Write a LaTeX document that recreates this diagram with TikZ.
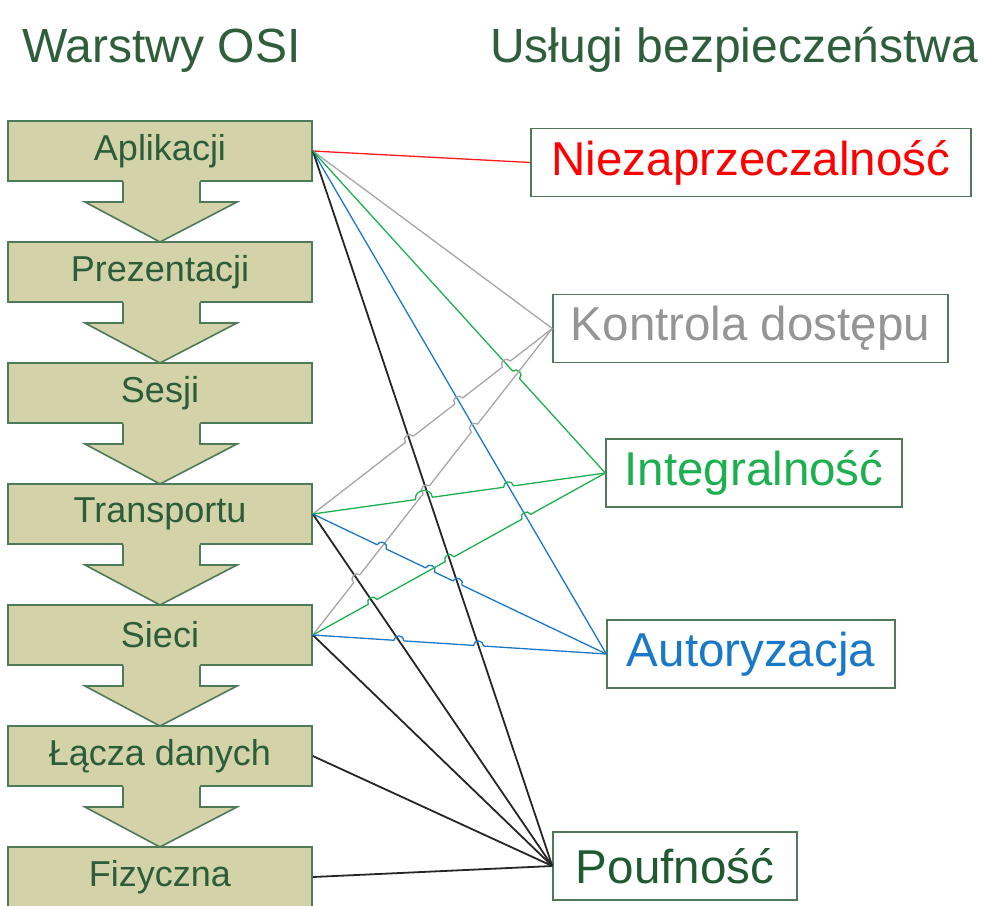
\documentclass[tikz,border=0pt]{standalone}
\usepackage{fontspec}
\setmainfont{Liberation Sans}
\usetikzlibrary{calc,intersections}

\definecolor{khaki}{HTML}{D4D2A8}
\definecolor{boxedge}{HTML}{4E7A58}
\definecolor{layertext}{HTML}{2B5D39}
\definecolor{titlegreen}{HTML}{2F5E3C}
\definecolor{cred}{HTML}{FF1A1A}
\definecolor{cgray}{HTML}{A6A6A6}
\definecolor{cgreen}{HTML}{1DB050}
\definecolor{cblue}{HTML}{1A78C8}
\definecolor{pouftext}{HTML}{1F5A32}

\newcommand\hoprad{5pt}

\tikzset{
  layer/.style={draw=boxedge, fill=khaki, line width=1.6pt, minimum width=304pt,
    minimum height=60pt, inner sep=0pt, text=layertext, font=\fontsize{36}{40}\selectfont},
  service/.style={draw=boxedge, fill=white, line width=1.4pt, minimum height=68pt,
    inner sep=0pt, font=\fontsize{47.5}{50}\selectfont},
  heading/.style={text=titlegreen, font=\fontsize{48}{50}\selectfont, anchor=base west, inner sep=0pt},
  link/.style={line width=1.3pt, line join=round},
  blacklink/.style={line width=1.8pt, black!85},
  hop/.style={bend left=90, looseness=1.6},
}

\begin{document}
\begin{tikzpicture}[x=1pt, y=-1pt]
\useasboundingbox (0,0) rectangle (984,905);

% headings
\node[heading] (h1) at (22,62) {Warstwy OSI};
\node[heading] (h2) at (490,62) {Usługi bezpieczeństwa};

% OSI layers
\node[layer] (apl) at (160,151) {Aplikacji};
\node[layer] (pre) at (160,272) {Prezentacji};
\node[layer] (ses) at (160,393) {Sesji};
\node[layer] (tra) at (160,514) {Transportu};
\node[layer] (sie) at (160,635) {Sieci};
\node[layer] (lac) at (160,756) {Łącza danych};
\node[layer] (fiz) at (160,877) {Fizyczna};

% block arrows between layers
\foreach \c in {151,272,393,514,635,756}{
  \fill[khaki] (123,\c+28.5) -- (123,\c+51) -- (85,\c+51) -- (160,\c+91)
    -- (237,\c+51) -- (200,\c+51) -- (200,\c+28.5) -- cycle;
  \draw[boxedge, line width=1.6pt] (123,\c+30.5) -- (123,\c+51) -- (85,\c+51)
    -- (160,\c+91) -- (237,\c+51) -- (200,\c+51) -- (200,\c+30.5);
}

% security services
\node[service, minimum width=440pt, text=red] (nie) at (751,162.5) {Niezaprzeczalność};
\node[service, minimum width=395pt, text=cgray!90!black] (kon) at (750.5,328.5) {Kontrola dostępu};
\node[service, minimum width=296pt, text=cgreen] (int) at (754,473) {Integralność};
\node[service, minimum width=288pt, text=cblue] (aut) at (751,654) {Autoryzacja};
\node[service, minimum width=244pt, text=pouftext] (pou) at (675,866) {Poufność};

% end points of the connectors
\coordinate (Ae) at (apl.east);
\coordinate (Te) at (tra.east);
\coordinate (Se) at (sie.east);
\coordinate (Le) at (lac.east);
\coordinate (Fe) at (fiz.east);
\coordinate (Nw) at (nie.west);
\coordinate (Kw) at (kon.west);
\coordinate (Iw) at (int.west);
\coordinate (Uw) at (aut.west);
\coordinate (Pw) at (pou.west);

% invisible copies used to find the crossings
\path[name path=ai] (Ae) -- (Iw);
\path[name path=au] (Ae) -- (Uw);
\path[name path=ap] (Ae) -- (Pw);
\path[name path=tk] (Te) -- (Kw);
\path[name path=ti] (Te) -- (Iw);
\path[name path=tu] (Te) -- (Uw);
\path[name path=tp] (Te) -- (Pw);
\path[name path=sk] (Se) -- (Kw);
\path[name path=si] (Se) -- (Iw);
\path[name path=su] (Se) -- (Uw);

\path[name intersections={of=ai and sk, by=aisk}];
\path[name intersections={of=tk and ap, by=tkap}];
\path[name intersections={of=tk and au, by=tkau}];
\path[name intersections={of=tk and ai, by=tkai}];
\path[name intersections={of=sk and tp, by=sktp}];
\path[name intersections={of=sk and ap, by=skap}];
\path[name intersections={of=sk and au, by=skau}];
\path[name intersections={of=ti and ap, by=tiap}];
\path[name intersections={of=ti and sk, by=tisk}];
\path[name intersections={of=ti and au, by=tiau}];
\path[name intersections={of=tu and sk, by=tusk}];
\path[name intersections={of=tu and si, by=tusi}];
\path[name intersections={of=tu and ap, by=tuap}];
\path[name intersections={of=si and tp, by=sitp}];
\path[name intersections={of=si and ap, by=siap}];
\path[name intersections={of=si and au, by=siau}];
\path[name intersections={of=su and tp, by=sutp}];
\path[name intersections={of=su and ap, by=suap}];
\coordinate (tiapsk) at ($(tiap)!0.5!(tisk)$);

% connectors without jumps
\draw[link, cred] (Ae) -- (Nw);
\draw[link, cgray] (Ae) -- (Kw);
\draw[link, cblue] (Ae) -- (Uw);
\draw[blacklink] (Ae) -- (Pw);
\draw[blacklink] (Te) -- (Pw);
\draw[blacklink] (Se) -- (Pw);
\draw[blacklink] (Le) -- (Pw);
\draw[blacklink] (Fe) -- (Pw);

% connectors that jump over the steeper lines
\draw[link, cgreen] (Ae) -- ($(aisk)!\hoprad!(Ae)$) to[hop] ($(aisk)!\hoprad!(Iw)$) -- (Iw);

\draw[link, cgray] (Te)
  -- ($(tkap)!\hoprad!(Te)$) to[hop] ($(tkap)!\hoprad!(Kw)$)
  -- ($(tkau)!\hoprad!(Te)$) to[hop] ($(tkau)!\hoprad!(Kw)$)
  -- ($(tkai)!\hoprad!(Te)$) to[hop] ($(tkai)!\hoprad!(Kw)$)
  -- (Kw);

\draw[link, cgray] (Se)
  -- ($(sktp)!\hoprad!(Se)$) to[hop] ($(sktp)!\hoprad!(Kw)$)
  -- ($(skap)!\hoprad!(Se)$) to[hop] ($(skap)!\hoprad!(Kw)$)
  -- ($(skau)!\hoprad!(Se)$) to[hop] ($(skau)!\hoprad!(Kw)$)
  -- (Kw);

\draw[link, cgreen] (Te)
  -- ($(tiapsk)!8.5pt!(Te)$) to[hop] ($(tiapsk)!8.5pt!(Iw)$)
  -- ($(tiau)!\hoprad!(Te)$) to[hop] ($(tiau)!\hoprad!(Iw)$)
  -- (Iw);

\draw[link, cblue] (Te)
  -- ($(tusk)!\hoprad!(Te)$) to[hop] ($(tusk)!\hoprad!(Uw)$)
  -- ($(tusi)!\hoprad!(Te)$) to[hop] ($(tusi)!\hoprad!(Uw)$)
  -- ($(tuap)!\hoprad!(Te)$) to[hop] ($(tuap)!\hoprad!(Uw)$)
  -- (Uw);

\draw[link, cgreen] (Se)
  -- ($(sitp)!\hoprad!(Se)$) to[hop] ($(sitp)!\hoprad!(Iw)$)
  -- ($(siap)!\hoprad!(Se)$) to[hop] ($(siap)!\hoprad!(Iw)$)
  -- ($(siau)!\hoprad!(Se)$) to[hop] ($(siau)!\hoprad!(Iw)$)
  -- (Iw);

\draw[link, cblue] (Se)
  -- ($(sutp)!\hoprad!(Se)$) to[hop] ($(sutp)!\hoprad!(Uw)$)
  -- ($(suap)!\hoprad!(Se)$) to[hop] ($(suap)!\hoprad!(Uw)$)
  -- (Uw);
\end{tikzpicture}
\end{document}
